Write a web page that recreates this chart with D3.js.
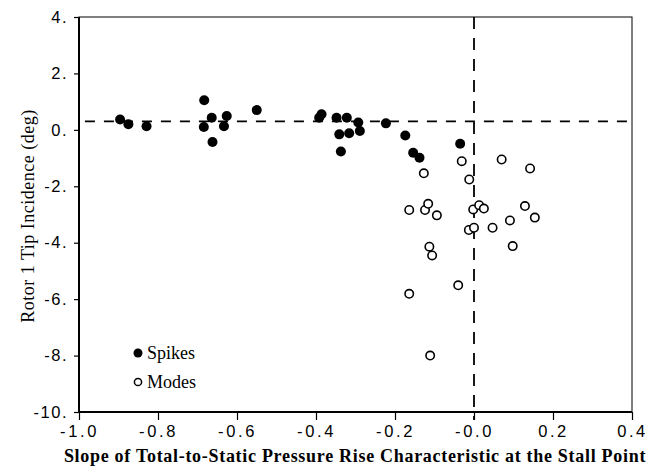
<!DOCTYPE html>
<html>
<head>
<meta charset="UTF-8">
<script src="https://d3js.org/d3.v7.min.js"></script>
<style>
  body { margin: 0; background: #fff; }
  svg { font-family: "Liberation Serif", "Times New Roman", serif; }
  .axis text { font-size: 16.5px; fill: #000; }
  .axis .domain { stroke: none; }
  .axis line { stroke: #000; stroke-width: 1.2px; }
</style>
</head>
<body>
<svg width="656" height="467"></svg>
<script>
// data
const spikeX = [-0.896, -0.875, -0.829, -0.683, -0.664, -0.684, -0.662, -0.626, -0.633, -0.550,
                -0.386, -0.392, -0.348, -0.322, -0.293, -0.289, -0.341, -0.316, -0.337, -0.223,
                -0.174, -0.154, -0.138, -0.035];
const spikeY = [0.37, 0.20, 0.13, 1.05, 0.43, 0.10, -0.43, 0.49, 0.13, 0.70,
                0.55, 0.43, 0.43, 0.43, 0.26, -0.04, -0.16, -0.12, -0.77, 0.23,
                -0.20, -0.81, -0.99, -0.49];
const modeX = [-0.127, -0.031, -0.012, 0.070, 0.142, -0.164, -0.124, -0.116, -0.094, -0.002,
               0.013, 0.025, 0.129, 0.154, 0.091, 0.047, -0.013, 0.000, -0.113, -0.106,
               0.098, -0.040, -0.164, -0.111];
const modeY = [-1.54, -1.11, -1.76, -1.05, -1.37, -2.84, -2.84, -2.62, -3.03, -2.82,
               -2.67, -2.79, -2.70, -3.11, -3.21, -3.47, -3.55, -3.47, -4.14, -4.45,
               -4.12, -5.51, -5.81, -8.00];
const xTicks = [-1.0, -0.8, -0.6, -0.4, -0.2, 0.0, 0.2, 0.4];
const xTickLabels = ["-1.0", "-0.8", "-0.6", "-0.4", "-0.2", "-0.0", "0.2", "0.4"];
const yTicks = [4, 2, 0, -2, -4, -6, -8, -10];
const yTickLabels = ["4.", "2.", "0.", "-2.", "-4.", "-6.", "-8.", "-10."];
const refLineY = 0.3;
const refLineX = 0.0;

const svg = d3.select("svg");
const L = 79, R = 632, T = 17, B = 412;

const x = d3.scaleLinear().domain([-1.0, 0.4]).range([L, R]);
const y = d3.scaleLinear().domain([-10, 4]).range([B, T]);

// frame
svg.append("rect")
  .attr("x", L).attr("y", T)
  .attr("width", R - L).attr("height", B - T)
  .attr("fill", "none").attr("stroke", "#000").attr("stroke-width", 1);
svg.append("line").attr("x1", L).attr("x2", L).attr("y1", T).attr("y2", B)
  .attr("stroke", "#000").attr("stroke-width", 2);
svg.append("line").attr("x1", L).attr("x2", R).attr("y1", B).attr("y2", B)
  .attr("stroke", "#000").attr("stroke-width", 2);

// axes
svg.append("g").attr("class", "axis")
  .attr("transform", `translate(0,${B})`)
  .call(d3.axisBottom(x).tickValues(xTicks)
    .tickFormat((d, i) => xTickLabels[i]).tickSize(8).tickPadding(5))
  .selectAll("text").attr("letter-spacing", "2.6px");

svg.append("g").attr("class", "axis")
  .attr("transform", `translate(${L},0)`)
  .call(d3.axisLeft(y).tickValues(yTicks)
    .tickFormat((d, i) => yTickLabels[i]).tickSize(5).tickPadding(6))
  .selectAll("text").attr("letter-spacing", "1.5px");

// dashed reference lines
svg.append("line")
  .attr("x1", x(-0.985)).attr("x2", R)
  .attr("y1", y(refLineY)).attr("y2", y(refLineY))
  .attr("stroke", "#000").attr("stroke-width", 1.8)
  .attr("stroke-dasharray", "10,9");
svg.append("line")
  .attr("x1", x(refLineX)).attr("x2", x(refLineX))
  .attr("y1", T).attr("y2", B + 8)
  .attr("stroke", "#000").attr("stroke-width", 1.8)
  .attr("stroke-dasharray", "12,9");

// points
svg.append("g").selectAll("circle")
  .data(modeX.map((d, i) => [d, modeY[i]]))
  .join("circle")
  .attr("cx", d => x(d[0])).attr("cy", d => y(d[1]))
  .attr("r", 4.2)
  .attr("fill", "#fff").attr("stroke", "#000").attr("stroke-width", 1.6);

svg.append("g").selectAll("circle")
  .data(spikeX.map((d, i) => [d, spikeY[i]]))
  .join("circle")
  .attr("cx", d => x(d[0])).attr("cy", d => y(d[1]))
  .attr("r", 5)
  .attr("fill", "#000");

// legend
const legend = svg.append("g").attr("font-size", 18);
legend.append("circle").attr("cx", 138).attr("cy", 353).attr("r", 4.5).attr("fill", "#000");
legend.append("text").attr("x", 147).attr("y", 359).text("Spikes");
legend.append("circle").attr("cx", 138).attr("cy", 382).attr("r", 3.6)
  .attr("fill", "#fff").attr("stroke", "#000").attr("stroke-width", 1.5);
legend.append("text").attr("x", 147).attr("y", 388).text("Modes");

// axis titles
svg.append("text")
  .attr("x", 355).attr("y", 462)
  .attr("text-anchor", "middle")
  .attr("font-size", 18).attr("font-weight", "bold")
  .attr("letter-spacing", "0.7px")
  .text("Slope of Total-to-Static Pressure Rise Characteristic at the Stall Point");

svg.append("text")
  .attr("transform", `translate(34,216) rotate(-90)`)
  .attr("text-anchor", "middle")
  .attr("font-size", 18)
  .attr("letter-spacing", "0.5px")
  .text("Rotor 1 Tip Incidence (deg)");
</script>
</body>
</html>
